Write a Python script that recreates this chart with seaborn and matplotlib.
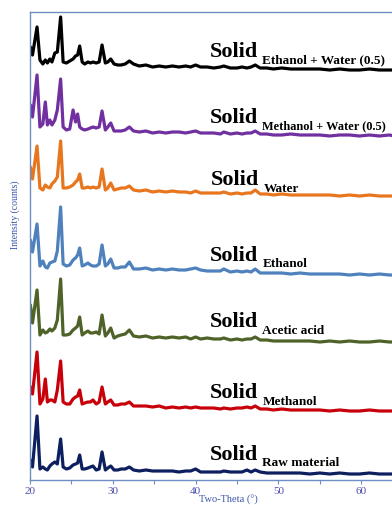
import numpy as np
import pandas as pd
import matplotlib
matplotlib.use("Agg")
import matplotlib.pyplot as plt
import seaborn as sns

# ---------------- data ----------------
two_theta = [20.05, 20.3, 20.85, 21.2, 21.55, 21.85, 22.1, 22.4, 22.65, 23.0, 23.3, 23.7,
             24.0, 24.4, 24.8, 25.2, 25.5, 25.75, 26.0, 26.3, 26.6, 27.0, 27.3, 27.6,
             28.0, 28.35, 28.7, 29.1, 29.4, 29.75, 30.15, 30.6, 31.0, 31.5, 32.0, 32.5,
             33.2, 34.0, 34.8, 35.6, 36.4, 37.2, 38.0, 38.8, 39.4, 40.0, 40.6, 41.4,
             42.2, 43.0, 43.4, 44.2, 45.0, 45.6, 46.2, 46.7, 47.2, 47.8, 48.6, 49.4,
             50.4, 51.5, 52.6, 53.8, 55.0, 56.2, 57.4, 58.6, 59.8, 61.0, 62.2, 63.4, 64.0]

ethanol_water = [23, 15, 43, 10, 6, 10, 7, 11, 8, 17, 18, 53,
                 8, 7, 9, 11, 14, 15, 24, 8, 6, 8, 7, 8,
                 7, 8, 25, 7, 8, 11, 6, 5, 5, 6, 9, 6,
                 4, 5, 3, 4, 3, 4, 3, 4, 3, 5, 3, 3,
                 2, 3, 4, 2, 2, 3, 2, 3, 5, 2, 2, 1,
                 2, 1, 1, 1, 1, 0, 1, 0, 0, 1, 0, 0, 0]

methanol_water = [31, 19, 61, 9, 12, 34, 11, 16, 11, 16, 26, 57,
                  9, 6, 7, 26, 14, 22, 9, 7, 6, 7, 8, 9,
                  8, 9, 25, 6, 9, 13, 5, 5, 5, 6, 9, 5,
                  4, 5, 3, 4, 3, 4, 4, 3, 4, 5, 3, 3,
                  3, 2, 4, 2, 3, 2, 3, 3, 5, 2, 2, 1,
                  1, 2, 1, 1, 1, 0, 1, 1, 0, 1, 0, 1, 0]

water = [29, 17, 50, 8, 6, 11, 9, 8, 12, 15, 19, 55,
         8, 8, 9, 11, 14, 16, 22, 8, 8, 9, 8, 9,
         8, 9, 27, 6, 8, 13, 6, 7, 8, 8, 10, 6,
         5, 6, 4, 5, 4, 5, 4, 4, 3, 5, 3, 3,
         3, 3, 4, 2, 3, 2, 3, 3, 6, 2, 2, 1,
         2, 1, 1, 1, 1, 1, 0, 1, 0, 1, 0, 0, 0]

ethanol = [35, 23, 51, 9, 14, 8, 7, 12, 13, 14, 24, 68,
           11, 9, 10, 15, 17, 20, 27, 9, 10, 12, 10, 9,
           9, 11, 30, 9, 11, 16, 7, 7, 8, 8, 13, 6,
           6, 7, 5, 6, 5, 6, 5, 5, 6, 7, 5, 4,
           4, 4, 6, 3, 4, 3, 4, 3, 6, 2, 2, 2,
           2, 1, 2, 1, 1, 1, 1, 0, 1, 0, 1, 0, 0]

acetic_acid = [37, 19, 52, 7, 12, 9, 10, 13, 11, 14, 22, 63,
               7, 7, 8, 12, 14, 16, 25, 7, 9, 11, 9, 9,
               10, 8, 27, 6, 9, 14, 4, 6, 7, 8, 12, 6,
               5, 6, 4, 5, 4, 5, 4, 5, 3, 5, 3, 4,
               3, 3, 4, 2, 3, 2, 3, 3, 5, 2, 2, 1,
               1, 1, 1, 1, 0, 1, 0, 1, 0, 0, 1, 0, 0]

methanol = [24, 17, 59, 7, 12, 32, 9, 11, 11, 9, 21, 50,
            9, 7, 7, 12, 14, 15, 21, 7, 8, 9, 9, 11,
            7, 9, 24, 7, 9, 11, 6, 6, 7, 7, 9, 5,
            5, 5, 4, 5, 3, 4, 3, 4, 3, 4, 3, 3,
            3, 2, 3, 2, 3, 3, 4, 3, 5, 2, 2, 1,
            2, 1, 1, 1, 1, 0, 1, 0, 0, 1, 0, 0, 0]

raw_material = [14, 7, 58, 5, 7, 5, 4, 8, 10, 12, 10, 35,
                7, 5, 6, 9, 10, 11, 19, 5, 5, 6, 7, 8,
                4, 5, 22, 4, 6, 8, 4, 4, 5, 5, 7, 4,
                3, 4, 3, 3, 3, 3, 2, 3, 3, 5, 2, 2,
                2, 2, 3, 2, 2, 2, 4, 2, 4, 2, 1, 1,
                1, 1, 1, 0, 1, 0, 1, 0, 0, 1, 0, 0, 0]

samples = ["Ethanol + Water (0.5)", "Methanol + Water (0.5)", "Water", "Ethanol",
           "Acetic acid", "Methanol", "Raw material"]
intensities = [ethanol_water, methanol_water, water, ethanol, acetic_acid, methanol, raw_material]
offsets = [410, 344, 284, 205, 138, 69, 6]
colors = ["#000000", "#7030A0", "#E8761E", "#4F81BD", "#4F6228", "#C8000A", "#0D1F5F"]

# ---------------- figure ----------------
sns.set_theme(style="white")
plt.rcParams["font.family"] = ["Liberation Serif", "DejaVu Serif"]

W, H = 392, 505
fig = plt.figure(figsize=(W / 100, H / 100), dpi=100)
ax_left, ax_top, ax_bottom = 30, 12, 480
ax = fig.add_axes([ax_left / W, (H - ax_bottom) / H, 1 - ax_left / W, (ax_bottom - ax_top) / H])

rows = []
for name, vals, off in zip(samples, intensities, offsets):
    for t, v in zip(two_theta, vals):
        rows.append({"two_theta": t, "intensity": v + off, "sample": name})
df = pd.DataFrame(rows)

sns.lineplot(data=df, x="two_theta", y="intensity", hue="sample",
             palette=dict(zip(samples, colors)), hue_order=samples,
             estimator=None, sort=False, legend=False, linewidth=2.3, ax=ax)
for ln in ax.get_lines():
    ln.set_solid_joinstyle("round")
    ln.set_solid_capstyle("round")

x_max = 20 + (W - ax_left) / 8.28
ax.set_xlim(20, x_max)
ax.set_ylim(0, ax_bottom - ax_top)

axis_col = "#6F8FC4"
for s in ["left", "top", "bottom"]:
    ax.spines[s].set_visible(True)
    ax.spines[s].set_color(axis_col)
    ax.spines[s].set_linewidth(1.0)
ax.spines["right"].set_visible(False)

ax.set_xticks([20, 30, 40, 50, 60])
ax.set_xticks([25, 35, 45, 55], minor=True)
ax.tick_params(axis="x", which="both", direction="out", length=3, width=0.8,
               color=axis_col, labelcolor="#4B4BAA", labelsize=8, pad=2, bottom=True)
ax.set_yticks([])

ax.set_xlabel("Two-Theta (°)", fontsize=7.5, color="#3A55A8")
ax.xaxis.set_label_coords((228 - ax_left) / (W - ax_left), (ax_bottom - 505) / (ax_bottom - ax_top))
ax.xaxis.label.set_va("bottom")
ax.set_ylabel("Intensity (counts)", fontsize=7, color="#3A55A8")
ax.yaxis.set_label_coords((20 - ax_left) / (W - ax_left), (ax_bottom - 215) / (ax_bottom - ax_top))

# labels: (Solid x px, Solid baseline px, subscript x px, subscript baseline px, subscript size)
label_pos = [(210, 57, 262, 63, 9.5), (210, 123, 262, 129, 8.9), (211, 185, 264, 192, 9.5),
             (210, 261, 263, 267, 9.5), (210, 327, 262, 334, 9.5), (210, 398, 263, 405, 9.5),
             (210, 460, 262, 466, 9.5)]

def to_axes(px, py):
    return (px - ax_left) / (W - ax_left), (ax_bottom - py) / (ax_bottom - ax_top)

for name, (sx, sy, bx, by, fs) in zip(samples, label_pos):
    x1, y1 = to_axes(sx, sy)
    ax.text(x1, y1, "Solid", transform=ax.transAxes, fontsize=16, fontweight="bold",
            color="black", va="baseline", ha="left", clip_on=False)
    x2, y2 = to_axes(bx, by)
    ax.text(x2, y2, name, transform=ax.transAxes, fontsize=fs, fontweight="bold",
            color="black", va="baseline", ha="left", clip_on=False)

fig.savefig("out.png", dpi=100)
